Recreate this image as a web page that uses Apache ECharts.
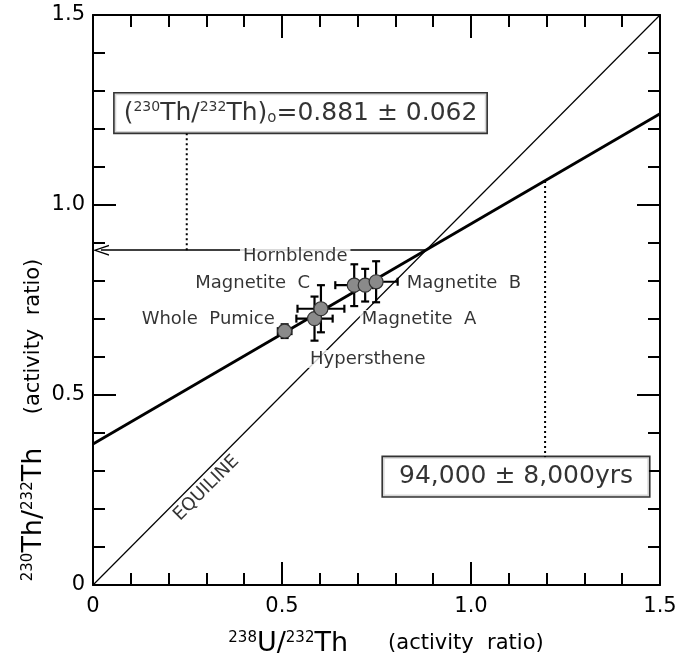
<!DOCTYPE html>
<html>
<head>
<meta charset="utf-8">
<script src="https://cdn.jsdelivr.net/npm/echarts@6/dist/echarts.min.js"></script>
<style>
html,body{margin:0;padding:0;background:#fff;}
#main{width:683px;height:658px;}
</style>
</head>
<body>
<div id="main"></div>
<script>
var FONT = 'DejaVu Sans';

// samples and their activity ratios
var sampleNames = ['Whole Pumice', 'Hypersthene', 'Magnetite C', 'Hornblende', 'Magnetite A', 'Magnetite B'];
var uTh = [0.507, 0.586, 0.603, 0.691, 0.720, 0.749];      // 238U/232Th
var thTh = [0.668, 0.701, 0.727, 0.789, 0.789, 0.798];     // 230Th/232Th
var uThErr = [0.018, 0.048, 0.062, 0.050, 0.030, 0.057];
var thThErr = [0.018, 0.058, 0.062, 0.055, 0.043, 0.054];

// lines
var equiline = [[0, 0], [1.5, 1.5]];
var isochron = [[0, 0.371], [1.5, 1.24]];
var initialRatio = 0.881;
var arrowStart = 0.021;   // arrow head centre, tip lands on the axis
var guideLeft = [[0.248, 0.881], [0.248, 1.188]];
var guideRight = [[1.196, 1.063], [1.196, 0.33]];
var tickLabels = ['0', '0.5', '1.0', '1.5'];

var pts = [];
for (var i = 0; i < uTh.length; i++) {
    pts.push({name: sampleNames[i], value: [uTh[i], thTh[i], uThErr[i], thThErr[i]]});
}

function fmtTick(v) {
    return tickLabels[Math.round(v / 0.5)];
}

// error bars with caps
function renderErr(params, api) {
    var x = api.value(0), y = api.value(1), ex = api.value(2), ey = api.value(3);
    var l = api.coord([x - ex, y]), r = api.coord([x + ex, y]);
    var t = api.coord([x, y + ey]), b = api.coord([x, y - ey]);
    var cap = 4;
    var st = {stroke: '#000', lineWidth: 2.2, fill: null};
    return {
        type: 'group',
        children: [
            {type: 'line', shape: {x1: l[0], y1: l[1], x2: r[0], y2: r[1]}, style: st},
            {type: 'line', shape: {x1: l[0], y1: l[1] - cap, x2: l[0], y2: l[1] + cap}, style: st},
            {type: 'line', shape: {x1: r[0], y1: r[1] - cap, x2: r[0], y2: r[1] + cap}, style: st},
            {type: 'line', shape: {x1: t[0], y1: t[1], x2: b[0], y2: b[1]}, style: st},
            {type: 'line', shape: {x1: t[0] - cap, y1: t[1], x2: t[0] + cap, y2: t[1]}, style: st},
            {type: 'line', shape: {x1: b[0] - cap, y1: b[1], x2: b[0] + cap, y2: b[1]}, style: st}
        ]
    };
}

function makeAxis(pos, showLabel) {
    return {
        type: 'value', min: 0, max: 1.5, interval: 0.5, position: pos,
        axisLine: {show: true, onZero: false, lineStyle: {color: '#000', width: 2}},
        axisTick: {show: true, inside: true, length: 23, lineStyle: {color: '#000', width: 2}},
        minorTick: {show: true, splitNumber: 5, length: 12, lineStyle: {color: '#000', width: 2}},
        splitLine: {show: false},
        axisLabel: {
            show: showLabel, formatter: fmtTick, color: '#000',
            fontFamily: FONT, fontSize: 21, margin: (pos == 'left' || pos == 'right') ? 8 : 11
        }
    };
}

var chart = echarts.init(document.getElementById('main'), null, {renderer: 'canvas'});

var supStyle = {fontFamily: FONT, fontSize: 15, verticalAlign: 'top', color: '#000', padding: [0, 0, 12, 0]};
var bigStyle = {fontFamily: FONT, fontSize: 27, color: '#000'};
var parStyle = {fontFamily: FONT, fontSize: 21, color: '#000'};

option = {
    animation: false,
    backgroundColor: '#fff',
    grid: {left: 93, right: 23, top: 15, bottom: 73},
    xAxis: [makeAxis('bottom', true), makeAxis('top', false)],
    yAxis: [makeAxis('left', true), makeAxis('right', false)],
    graphic: [
        {
            type: 'text', x: 386, y: 644,
            style: {
                text: '{s|238}{m|U/}{s|232}{m|Th}{p|      (activity  ratio)}',
                align: 'center', verticalAlign: 'middle',
                rich: {s: supStyle, m: bigStyle, p: parStyle}
            }
        },
        {
            type: 'text', x: 34, y: 420, rotation: Math.PI / 2,
            style: {
                text: '{s|230}{m|Th/}{s|232}{m|Th}{p|     (activity  ratio)}',
                align: 'center', verticalAlign: 'middle',
                rich: {s: supStyle, m: bigStyle, p: parStyle}
            }
        }
    ],
    series: [
        {
            name: 'Equiline', type: 'line', data: equiline, symbol: 'none', z: 2,
            lineStyle: {color: '#000', width: 1.2},
            markLine: {
                silent: true,
                symbol: ['path://M0,10 L5,0 L10,10 L8.6,10 L5,2.4 L1.4,10 Z', 'none'],
                symbolSize: [11, 16],
                label: {show: false},
                lineStyle: {color: '#000', width: 1.6, type: 'solid'},
                data: [[{coord: [arrowStart, initialRatio]}, {coord: [initialRatio, initialRatio]}]]
            }
        },
        {
            name: 'Isochron', type: 'line', data: isochron, symbol: 'none', z: 3,
            lineStyle: {color: '#000', width: 2.8}
        },
        {
            type: 'line', data: guideLeft, symbol: 'none', z: 2,
            lineStyle: {color: '#000', width: 2, type: [2, 3]}
        },
        {
            type: 'line', data: guideRight, symbol: 'none', z: 2,
            lineStyle: {color: '#000', width: 2, type: [2, 3]}
        },
        {
            type: 'custom', renderItem: renderErr, data: pts, z: 4,
            encode: {x: 0, y: 1}
        },
        {
            type: 'scatter', data: pts, symbolSize: 14, z: 5,
            itemStyle: {color: '#8a8a8a', borderColor: '#333', borderWidth: 1.2, opacity: 1}
        },
        {
            type: 'scatter', symbolSize: 1, z: 10, silent: true,
            itemStyle: {color: 'transparent'},
            label: {
                show: true, position: 'inside', formatter: '{b}', color: '#000',
                fontFamily: FONT, fontSize: 18
            },
            data: [
                {name: 'Whole  Pumice', value: [0.481, 0.70], label: {align: 'right'}},
                {name: 'Magnetite  C', value: [0.574, 0.795], label: {align: 'right'}},
                {name: 'Magnetite  B', value: [0.83, 0.795], label: {align: 'left'}},
                {name: 'Magnetite  A', value: [0.706, 0.70], label: {align: 'left', backgroundColor: '#fff', padding: [0, 2]}},
                {name: 'Hypersthene', value: [0.569, 0.595], label: {align: 'left', backgroundColor: '#fff', padding: [0, 2]}},
                {name: 'Hornblende', value: [0.535, 0.866], label: {align: 'center', backgroundColor: '#fff', padding: [0, 3]}},
                {name: 'EQUILINE', value: [0.30, 0.255], label: {align: 'center', rotate: 45, fontSize: 18}},
                {
                    name: 'box1', value: [0.549, 1.242],
                    label: {
                        align: 'center', backgroundColor: '#fff', borderColor: '#000', borderWidth: 1.6,
                        padding: [7, 9],
                        formatter: '{m|(}{s|230}{m|Th/}{s|232}{m|Th)}{o|o}{m|=0.881 ± 0.062}',
                        rich: {
                            m: {fontFamily: FONT, fontSize: 25, color: '#000'},
                            s: {fontFamily: FONT, fontSize: 14, verticalAlign: 'top', padding: [0, 0, 11, 0], color: '#000'},
                            o: {fontFamily: FONT, fontSize: 15, verticalAlign: 'bottom', color: '#000'}
                        }
                    }
                },
                {
                    name: '94,000 ± 8,000yrs', value: [1.119, 0.285],
                    label: {
                        align: 'center', backgroundColor: '#fff', borderColor: '#000', borderWidth: 1.6,
                        padding: [7, 16], fontSize: 25
                    }
                }
            ]
        }
    ]
};
chart.setOption(option);
</script>
</body>
</html>
